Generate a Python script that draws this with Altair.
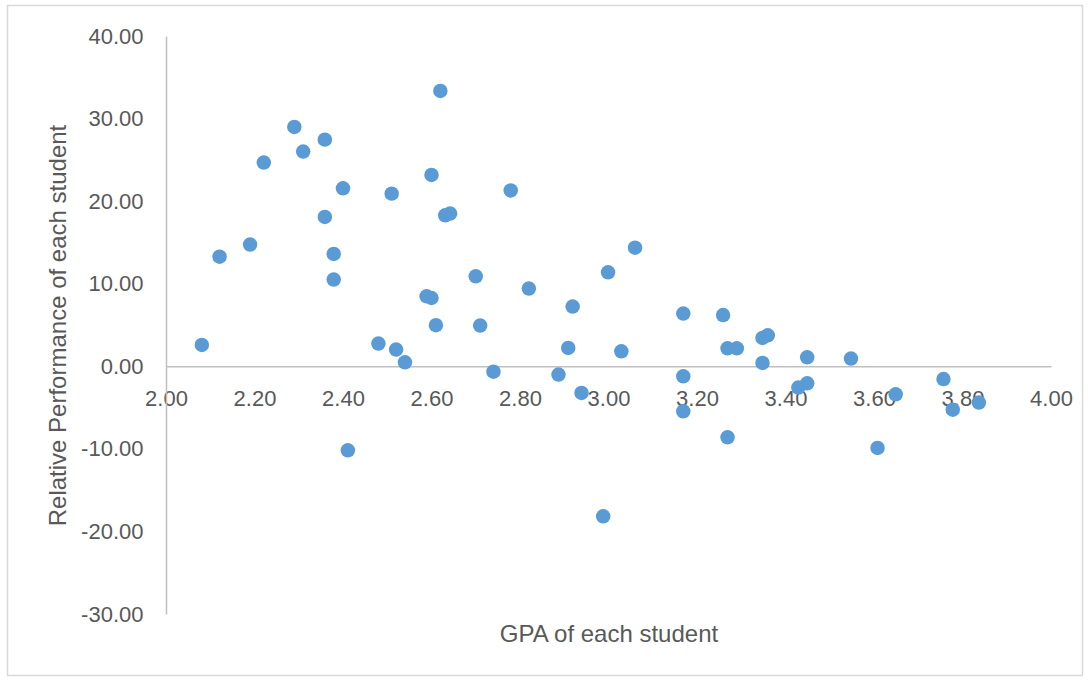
import altair as alt
import pandas as pd

gpa = [2.081, 2.121, 2.190, 2.221, 2.290, 2.310, 2.359, 2.359, 2.379, 2.379,
       2.400, 2.411, 2.480, 2.510, 2.520, 2.540, 2.589, 2.600, 2.600, 2.610,
       2.620, 2.631, 2.642, 2.700, 2.710, 2.740, 2.779, 2.820, 2.887, 2.909,
       2.919, 2.939, 2.988, 2.999, 3.029, 3.060, 3.169, 3.169, 3.169, 3.259,
       3.269, 3.269, 3.290, 3.348, 3.360, 3.348, 3.429, 3.449, 3.449, 3.548,
       3.608, 3.649, 3.757, 3.778, 3.837]
perf = [2.58, 13.28, 14.74, 24.67, 28.98, 26.0, 27.45, 18.08, 13.6, 10.5,
        21.56, -10.17, 2.75, 20.91, 2.02, 0.48, 8.48, 8.27, 23.17, 4.97,
        33.34, 18.29, 18.49, 10.9, 4.93, -0.65, 21.3, 9.41, -1.0, 2.22,
        7.23, -3.23, -18.17, 11.38, 1.82, 14.37, 6.38, -1.21, -5.45, 6.21,
        2.18, -8.6, 2.18, 3.43, 3.75, 0.40, -2.58, -2.06, 1.09, 0.93,
        -9.89, -3.39, -1.54, -5.25, -4.40]

x_ticks = [2.0, 2.2, 2.4, 2.6, 2.8, 3.0, 3.2, 3.4, 3.6, 3.8, 4.0]
y_ticks = [-30, -20, -10, 0, 10, 20, 30, 40]

df = pd.DataFrame({"gpa": gpa, "perf": perf})

W, H = 885, 578
GRAY_TXT = "#595959"
LINE = "#bfbfbf"
LBL = "datum.value < 0 ? '-' + format(-datum.value, '.2f') : format(datum.value, '.2f')"

zero_offset = -(H - H * 40 / 70)

points = alt.Chart(df).mark_circle(size=210, opacity=1, color="#5b9bd5").encode(
    x=alt.X("gpa:Q", scale=alt.Scale(domain=[2, 4], nice=False, zero=False),
            axis=alt.Axis(values=x_ticks, labelExpr=LBL, grid=False, ticks=False,
                          domainColor=LINE, domainWidth=1.5,
                          labelColor=GRAY_TXT, labelFontSize=22,
                          labelFlush=False, labelOverlap=False,
                          labelBaseline="alphabetic", labelPadding=39,
                          offset=zero_offset,
                          title="GPA of each student", titleFontSize=24,
                          titleFontWeight="normal", titleColor=GRAY_TXT,
                          titleY=268, titleBaseline="middle")),
    y=alt.Y("perf:Q", scale=alt.Scale(domain=[-30, 40], nice=False, zero=False),
            axis=alt.Axis(values=y_ticks, labelExpr=LBL, grid=False, ticks=False,
                          domainColor=LINE, domainWidth=1.5,
                          labelColor=GRAY_TXT, labelFontSize=22,
                          labelFlush=False, labelOverlap=False,
                          labelPadding=23,
                          title="Relative Performance of each student",
                          titleFontSize=24, titleFontWeight="normal",
                          titleColor=GRAY_TXT, titleX=-108, titleY=H / 2,
                          titleAngle=270, titleAlign="center",
                          titleBaseline="middle")),
)

frame = alt.Chart(pd.DataFrame({"a": [0]})).mark_rect(
    fill=None, stroke="#d9d9d9", strokeWidth=1.5
).encode(
    x=alt.value(-158.5), x2=alt.value(916.5),
    y=alt.value(-30.5), y2=alt.value(639.5),
)

chart = alt.layer(frame, points).properties(
    width=W, height=H,
    autosize=alt.AutoSizeParams(type="none"),
    padding={"left": 166, "top": 36, "right": 39, "bottom": 66},
    background="white",
).configure(font="Liberation Sans").configure_view(stroke=None)

chart.save("out.html", embed_options={"renderer": "svg", "actions": False})
